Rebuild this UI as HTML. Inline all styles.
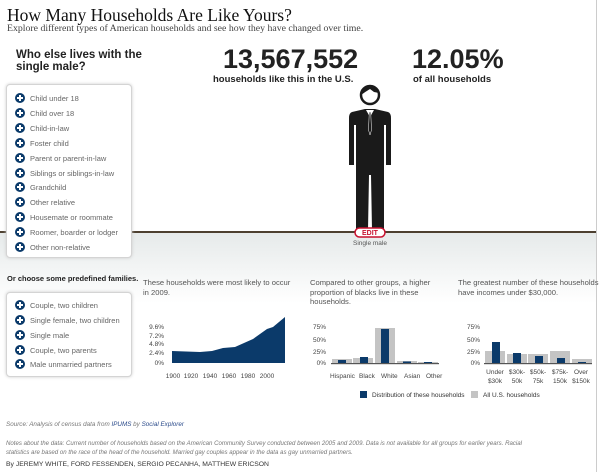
<!DOCTYPE html>
<html><head><meta charset="utf-8"><style>
*{margin:0;padding:0;box-sizing:border-box}
body{width:600px;height:472px;position:relative;overflow:hidden;background:#fff;font-family:"Liberation Sans",sans-serif}
.a{position:absolute;white-space:nowrap}
.serif{font-family:"Liberation Serif",serif}
.box{position:absolute;border:1px solid #d4d4d4;border-radius:4px;background:#fff;box-shadow:0 0 3px #ccc}
.it{position:absolute;left:8px;font-size:7.5px;color:#666;white-space:nowrap}
.it i{display:inline-block;width:10px;height:10px;border-radius:50%;background:#0b3a6a;vertical-align:middle;margin-right:5px;position:relative;top:-1px}
.it i:before{content:"";position:absolute;left:2px;top:4.2px;width:6px;height:1.6px;background:#fff}
.it i:after{content:"";position:absolute;left:4.2px;top:2px;width:1.6px;height:6px;background:#fff}
.t{font-size:7.6px;color:#555;line-height:9.5px;white-space:normal}
</style></head><body>
<div style="position:absolute;left:0;top:233px;width:597px;height:70px;background:linear-gradient(#e6eaea,#fff)"></div>
<div style="position:absolute;left:0;top:231px;width:597px;height:2px;background:#4d4030"></div>
<div style="position:absolute;left:596px;top:0;width:1px;height:472px;background:#ccc"></div>

<div class="a serif" style="left:7px;top:5px;font-size:17.5px;color:#111">How Many Households Are Like Yours?</div>
<div class="a serif" style="left:7px;top:23px;font-size:9.8px;color:#444">Explore different types of American households and see how they have changed over time.</div>
<div class="a" style="left:16px;top:49px;font-size:11.5px;font-weight:bold;line-height:12px;color:#222">Who else lives with the<br>single male?</div>

<div class="box" style="left:6px;top:84px;width:126px;height:174px">
<div class="it" style="top:9px"><i></i>Child under 18</div>
<div class="it" style="top:24px"><i></i>Child over 18</div>
<div class="it" style="top:39px"><i></i>Child-in-law</div>
<div class="it" style="top:54px"><i></i>Foster child</div>
<div class="it" style="top:69px"><i></i>Parent or parent-in-law</div>
<div class="it" style="top:84px"><i></i>Siblings or siblings-in-law</div>
<div class="it" style="top:98px"><i></i>Grandchild</div>
<div class="it" style="top:113px"><i></i>Other relative</div>
<div class="it" style="top:128px"><i></i>Housemate or roommate</div>
<div class="it" style="top:143px"><i></i>Roomer, boarder or lodger</div>
<div class="it" style="top:158px"><i></i>Other non-relative</div>
</div>

<div class="a" style="left:223px;top:44px;font-size:27px;font-weight:bold;color:#222">13,567,552</div>
<div class="a" style="left:213px;top:74px;font-size:9.5px;font-weight:bold;color:#222">households like this in the U.S.</div>
<div class="a" style="left:412px;top:44px;font-size:27px;font-weight:bold;color:#222">12.05%</div>
<div class="a" style="left:413px;top:74px;font-size:9.5px;font-weight:bold;color:#222">of all households</div>

<svg class="a" style="left:0;top:0" width="600" height="472">
<circle cx="370" cy="95" r="9" fill="#fff" stroke="#1a1a1a" stroke-width="2.5"/>
<path d="M361,95 A9,9 0 0 1 379,93 L374,92 L370,89 Q365,92 361,95Z" fill="#1a1a1a"/>
<path d="M352,112 Q349,113 349,118 L349,165 L354,165 L354,125 L356,125 L356,230 L368,230 L369,175 L371,175 L372,230 L384,230 L384,125 L386,125 L386,165 L391,165 L391,118 Q391,113 388,112 L375,109 L365,109 Z" fill="#1a1a1a"/>
<path d="M366,110 L370,117 L374,110Z" fill="#fff"/>
<path d="M369.3,112 L370.7,112 L371.5,130 L370,135 L368.5,130Z" fill="#1a1a1a" stroke="#fff" stroke-width="0.5"/>
<rect x="355" y="228" width="30" height="9" rx="4.5" fill="#fff" stroke="#c8102e" stroke-width="1.5"/>
<text x="370" y="235" font-size="7" font-weight="bold" fill="#c8102e" text-anchor="middle" font-family="Liberation Sans">EDIT</text>
<text x="370" y="245" font-size="6.5" fill="#555" text-anchor="middle" font-family="Liberation Sans">Single male</text>

<g font-family="Liberation Sans" font-size="6.5" fill="#444">
<text x="164" y="329" text-anchor="end">9.6%</text><text x="164" y="338" text-anchor="end">7.2%</text><text x="164" y="346" text-anchor="end">4.8%</text><text x="164" y="355" text-anchor="end">2.4%</text><text x="164" y="365" text-anchor="end">0%</text>
<text x="173" y="378" text-anchor="middle">1900</text><text x="191" y="378" text-anchor="middle">1920</text><text x="210" y="378" text-anchor="middle">1940</text><text x="229" y="378" text-anchor="middle">1960</text><text x="248" y="378" text-anchor="middle">1980</text><text x="267" y="378" text-anchor="middle">2000</text>
</g>
<path d="M172,363 L172,351 L200,352 L212,351 L223,348 L235,347 L253,339 L267,329 L273,327 L285,317 L285,363Z" fill="#0b3a6a"/>

<g font-family="Liberation Sans" font-size="6.5" fill="#444">
<text x="326" y="329" text-anchor="end">75%</text><text x="326" y="342" text-anchor="end">50%</text><text x="326" y="354" text-anchor="end">25%</text><text x="326" y="365" text-anchor="end">0%</text>
<text x="330" y="378">Hispanic</text><text x="359" y="378">Black</text><text x="381" y="378">White</text><text x="404" y="378">Asian</text><text x="426" y="378">Other</text>
</g>
<g fill="#c4c4c4"><rect x="332" y="359" width="20" height="4"/><rect x="353" y="358" width="20" height="5"/><rect x="375" y="328" width="20" height="35"/><rect x="397" y="361" width="20" height="2"/><rect x="418" y="362" width="20" height="1"/></g>
<g fill="#0b3a6a"><rect x="338" y="360" width="8" height="3"/><rect x="360" y="357" width="8" height="6"/><rect x="381" y="329" width="8" height="34"/><rect x="403" y="361.5" width="8" height="1.5"/><rect x="424" y="362" width="8" height="1"/></g>
<rect x="331" y="363" width="108" height="1.2" fill="#555"/>

<g font-family="Liberation Sans" font-size="6.5" fill="#444" text-anchor="middle">
<text x="480" y="329" text-anchor="end">75%</text><text x="480" y="342" text-anchor="end">50%</text><text x="480" y="354" text-anchor="end">25%</text><text x="480" y="365" text-anchor="end">0%</text>
<text x="495" y="374">Under</text><text x="495" y="383">$30k</text>
<text x="517" y="374">$30k-</text><text x="517" y="383">50k</text>
<text x="538" y="374">$50k-</text><text x="538" y="383">75k</text>
<text x="560" y="374">$75k-</text><text x="560" y="383">150k</text>
<text x="581" y="374">Over</text><text x="581" y="383">$150k</text>
</g>
<g fill="#c4c4c4"><rect x="485" y="351" width="20" height="12"/><rect x="507" y="354" width="20" height="9"/><rect x="528" y="354" width="20" height="9"/><rect x="550" y="351" width="20" height="12"/><rect x="572" y="359" width="20" height="4"/></g>
<g fill="#0b3a6a"><rect x="492" y="342" width="8" height="21"/><rect x="513" y="353" width="8" height="10"/><rect x="535" y="356" width="8" height="7"/><rect x="557" y="358" width="8" height="5"/><rect x="578" y="362" width="8" height="1"/></g>
<rect x="484" y="363" width="108" height="1.2" fill="#555"/>

<rect x="360" y="391" width="7" height="7" fill="#0b3a6a"/>
<text x="372" y="397" font-size="6.5" fill="#333" font-family="Liberation Sans">Distribution of these households</text>
<rect x="471" y="391" width="7" height="7" fill="#c4c4c4"/>
<text x="483" y="397" font-size="6.5" fill="#333" font-family="Liberation Sans">All U.S. households</text>
</svg>

<div class="a" style="left:7px;top:274px;font-size:7.5px;font-weight:bold;color:#222">Or choose some predefined families.</div>
<div class="box" style="left:6px;top:292px;width:126px;height:85px">
<div class="it" style="top:8px"><i></i>Couple, two children</div>
<div class="it" style="top:23px"><i></i>Single female, two children</div>
<div class="it" style="top:38px"><i></i>Single male</div>
<div class="it" style="top:53px"><i></i>Couple, two parents</div>
<div class="it" style="top:67px"><i></i>Male unmarried partners</div>
</div>

<div class="a t" style="left:143px;top:278px;width:160px">These households were most likely to occur<br>in 2009.</div>
<div class="a t" style="left:310px;top:278px;width:140px">Compared to other groups, a higher<br>proportion of blacks live in these<br>households.</div>
<div class="a t" style="left:458px;top:278px;width:145px">The greatest number of these households<br>have incomes under $30,000.</div>

<div class="a" style="left:6px;top:421px;font-size:6.3px;font-style:italic;color:#777">Source: Analysis of census data from <span style="color:#2a4a8a">IPUMS</span> by <span style="color:#2a4a8a">Social Explorer</span></div>
<div class="a" style="left:6px;top:440px;font-size:6.1px;font-style:italic;color:#777;line-height:8.5px">Notes about the data: Current number of households based on the American Community Survey conducted between 2005 and 2009. Data is not available for all groups for earlier years. Racial<br>statistics are based on the race of the head of the household. Married gay couples appear in the data as gay unmarried partners.</div>
<div class="a" style="left:6px;top:461px;font-size:6.8px;color:#333">By JEREMY WHITE, FORD FESSENDEN, SERGIO PECANHA, MATTHEW ERICSON</div>
</body></html>
